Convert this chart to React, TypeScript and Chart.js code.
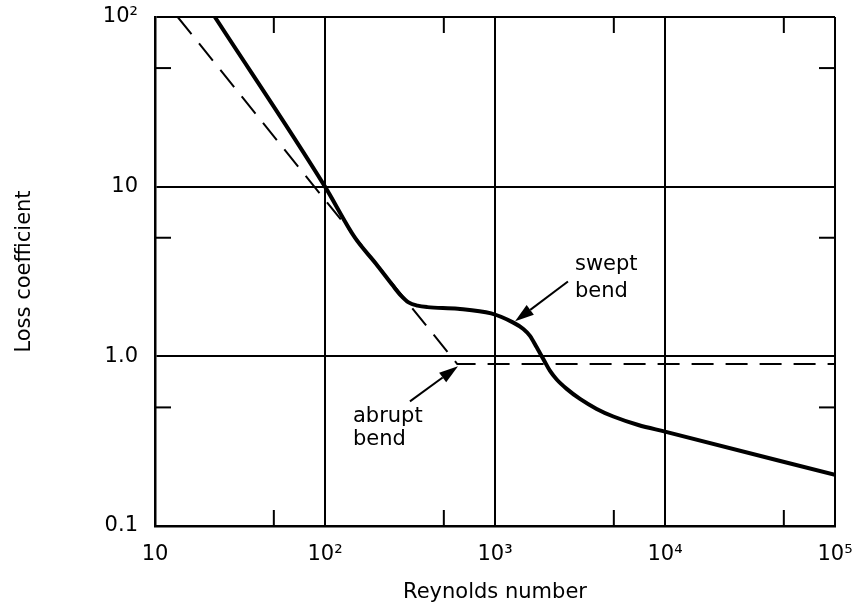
import React, { useEffect, useRef } from "react";
import { Chart, registerables } from "chart.js";

Chart.register(...registerables);

// ---- axes ----
const xDecades = [10, 100, 1000, 10000, 100000];
const xTickLabels = ["10", "10²", "10³", "10⁴", "10⁵"];
const yDecades = [0.1, 1, 10, 100];
const yTickLabels = ["0.1", "1.0", "10", "10²"];
const xMinorTicks = [50, 500, 5000, 50000];
const yMinorTicks = [0.5, 5, 50];

// ---- series ----
const sweptRe = [22.5, 100, 150, 200, 250, 280, 310, 350, 400, 604, 949, 1282, 1468, 1606, 1759, 1923, 2107, 2307, 2641, 3162, 3963, 4966, 6966, 10000, 100000];
const sweptK = [100, 10, 5.0, 3.5, 2.62, 2.28, 2.08, 1.99, 1.95, 1.91, 1.79, 1.58, 1.45, 1.32, 1.13, 0.965, 0.82, 0.73, 0.643, 0.561, 0.49, 0.442, 0.394, 0.36, 0.2];
const abruptRe = [13.6, 600, 100000];
const abruptK = [100, 0.9, 0.9];

// ---- annotations (data coordinates) ----
const sweptLabelLines = ["swept", "bend"];
const sweptLabelRe = 2955;
const sweptLabelK = [3.47, 2.41];
const sweptArrowFrom = [2686, 2.76];
const sweptArrowTo = [1312, 1.61];

const abruptLabelLines = ["abrupt", "bend"];
const abruptLabelRe = 146;
const abruptLabelK = [0.444, 0.325];
const abruptArrowFrom = [316, 0.543];
const abruptArrowTo = [606, 0.873];

const FONT = "'DejaVu Sans', 'Liberation Sans', Arial, sans-serif";

const overlayPlugin = {
  id: "overlay",
  afterDraw(chart: any) {
    const { ctx, chartArea: a, scales } = chart;
    const x = scales.x;
    const y = scales.y;
    const T = 16;
    ctx.save();
    ctx.strokeStyle = "#000";
    ctx.fillStyle = "#000";
    ctx.lineWidth = 2;
    const seg = (x1: number, y1: number, x2: number, y2: number) => {
      ctx.beginPath();
      ctx.moveTo(x1, y1);
      ctx.lineTo(x2, y2);
      ctx.stroke();
    };
    xMinorTicks.forEach((v) => {
      const px = x.getPixelForValue(v);
      seg(px, a.bottom, px, a.bottom - T);
      seg(px, a.top, px, a.top + T);
    });
    yMinorTicks.forEach((v) => {
      const py = y.getPixelForValue(v);
      seg(a.left, py, a.left + T, py);
      seg(a.right, py, a.right - T, py);
    });

    const arrow = (from: number[], to: number[]) => {
      const x1 = x.getPixelForValue(from[0]);
      const y1 = y.getPixelForValue(from[1]);
      const x2 = x.getPixelForValue(to[0]);
      const y2 = y.getPixelForValue(to[1]);
      const ang = Math.atan2(y2 - y1, x2 - x1);
      const L = 19;
      const W = 6;
      const bx = x2 - L * Math.cos(ang);
      const by = y2 - L * Math.sin(ang);
      ctx.lineWidth = 2;
      seg(x1, y1, bx, by);
      ctx.beginPath();
      ctx.moveTo(x2, y2);
      ctx.lineTo(bx + W * Math.sin(ang), by - W * Math.cos(ang));
      ctx.lineTo(bx - W * Math.sin(ang), by + W * Math.cos(ang));
      ctx.closePath();
      ctx.fill();
    };
    arrow(sweptArrowFrom, sweptArrowTo);
    arrow(abruptArrowFrom, abruptArrowTo);

    ctx.font = `21px ${FONT}`;
    ctx.textAlign = "left";
    ctx.textBaseline = "middle";
    sweptLabelLines.forEach((t, i) => {
      ctx.fillText(t, x.getPixelForValue(sweptLabelRe), y.getPixelForValue(sweptLabelK[i]));
    });
    abruptLabelLines.forEach((t, i) => {
      ctx.fillText(t, x.getPixelForValue(abruptLabelRe), y.getPixelForValue(abruptLabelK[i]));
    });
    ctx.restore();
  },
};

export default function App() {
  const ref = useRef<HTMLCanvasElement>(null);
  useEffect(() => {
    if (!ref.current) return;
    const chart = new Chart(ref.current, {
      type: "scatter",
      data: {
        datasets: [
          {
            label: "swept bend",
            data: sweptRe.map((r, i) => ({ x: r, y: sweptK[i] })),
            showLine: true,
            borderColor: "#000",
            borderWidth: 4,
            pointRadius: 0,
            cubicInterpolationMode: "monotone",
          },
          {
            label: "abrupt bend",
            data: abruptRe.map((r, i) => ({ x: r, y: abruptK[i] })),
            showLine: true,
            borderColor: "#000",
            borderWidth: 2,
            borderDash: [22, 12],
            pointRadius: 0,
            tension: 0,
          },
        ],
      },
      options: {
        responsive: false,
        animation: false,
        layout: { padding: { left: 0, right: 22, top: 17, bottom: 0 } },
        plugins: { legend: { display: false }, tooltip: { enabled: false } },
        scales: {
          x: {
            type: "logarithmic",
            position: "bottom",
            min: 10,
            max: 100000,
            afterBuildTicks: (s: any) => {
              s.ticks = xDecades.map((v) => ({ value: v }));
            },
            afterFit: (s: any) => {
              s.height = 81;
              s.paddingLeft = 0;
              s.paddingRight = 0;
            },
            ticks: {
              autoSkip: false,
              maxRotation: 0,
              padding: 16,
              color: "#000",
              font: { family: FONT, size: 21 },
              callback: (v: any) => {
                const i = xDecades.indexOf(Number(v));
                return i >= 0 ? xTickLabels[i] : "";
              },
            },
            grid: { color: "#000", lineWidth: 2, drawTicks: false },
            border: { display: true, color: "#000", width: 2.5 },
            title: {
              display: true,
              text: "Reynolds number",
              color: "#000",
              font: { family: FONT, size: 21 },
              padding: { top: 0, bottom: 2 },
            },
          },
          y: {
            type: "logarithmic",
            position: "left",
            min: 0.1,
            max: 100,
            afterBuildTicks: (s: any) => {
              s.ticks = yDecades.map((v) => ({ value: v }));
            },
            afterFit: (s: any) => {
              s.width = 155;
              s.paddingTop = 0;
              s.paddingBottom = 0;
            },
            ticks: {
              autoSkip: false,
              padding: 17,
              color: "#000",
              font: { family: FONT, size: 21 },
              callback: (v: any) => {
                const i = yDecades.findIndex((d) => Math.abs(d - Number(v)) < 1e-9);
                return i >= 0 ? yTickLabels[i] : "";
              },
            },
            grid: { color: "#000", lineWidth: 2, drawTicks: false },
            border: { display: true, color: "#000", width: 2.5 },
            title: {
              display: true,
              text: "Loss coefficient",
              color: "#000",
              font: { family: FONT, size: 21 },
              padding: { top: 12, bottom: 0 },
            },
          },
        },
      },
      plugins: [overlayPlugin],
    });
    return () => chart.destroy();
  }, []);

  return (
    <div style={{ position: "fixed", left: 0, top: 0, width: 857, height: 607, background: "#fff" }}>
      <canvas ref={ref} width={857} height={607} style={{ display: "block" }} />
    </div>
  );
}
